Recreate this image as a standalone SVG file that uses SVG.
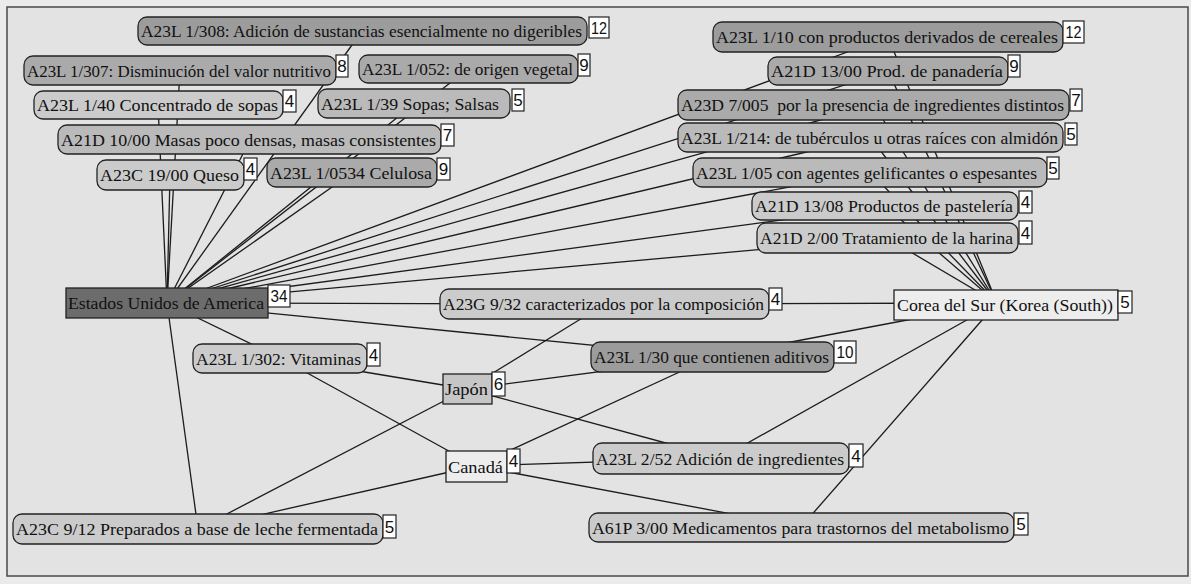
<svg xmlns="http://www.w3.org/2000/svg" width="1191" height="584" viewBox="0 0 1191 584">
<style>
.bg{fill:#ebebeb}
.frame{fill:#e3e3e3;stroke:#4a4a4a;stroke-width:1.5}
.edge{stroke:#1c1c1c;stroke-width:1.3;fill:none}
.box{stroke:#222;stroke-width:1.3}
.lbl{font-family:"Liberation Serif","Times New Roman",serif;font-size:17px;fill:#111}
.cr{fill:#fff;stroke:#222;stroke-width:1.2}
.ct{font-family:"Liberation Sans",Arial,sans-serif;font-size:17px;fill:#111;text-anchor:middle}
.g2{fill:#9c9c9c}.g3{fill:#aaaaaa}.g4{fill:#bababa}.g5{fill:#cbcbcb}.gd{fill:#6c6c6c}.gj{fill:#c6c6c6}.gw{fill:#ededed}
</style>
<rect class="bg" x="0" y="0" width="1191" height="584"/>
<rect class="frame" x="7" y="7" width="1181" height="569"/>
<g id="connectors">
<line class="edge" x1="167" y1="303" x2="362" y2="31"/>
<line class="edge" x1="167" y1="303" x2="180" y2="70"/>
<line class="edge" x1="167" y1="303" x2="468" y2="69"/>
<line class="edge" x1="167" y1="303" x2="158" y2="105"/>
<line class="edge" x1="167" y1="303" x2="414" y2="104"/>
<line class="edge" x1="167" y1="303" x2="250" y2="140"/>
<line class="edge" x1="167" y1="303" x2="170" y2="175"/>
<line class="edge" x1="167" y1="303" x2="352" y2="173"/>
<line class="edge" x1="167" y1="303" x2="888" y2="37"/>
<line class="edge" x1="167" y1="303" x2="888" y2="71"/>
<line class="edge" x1="167" y1="303" x2="874" y2="105"/>
<line class="edge" x1="167" y1="303" x2="870" y2="137"/>
<line class="edge" x1="167" y1="303" x2="870" y2="172"/>
<line class="edge" x1="167" y1="303" x2="885" y2="206"/>
<line class="edge" x1="167" y1="303" x2="887" y2="238"/>
<line class="edge" x1="167" y1="303" x2="605" y2="304"/>
<line class="edge" x1="167" y1="303" x2="712" y2="357"/>
<line class="edge" x1="167" y1="303" x2="280" y2="358"/>
<line class="edge" x1="167" y1="303" x2="198" y2="529"/>
<line class="edge" x1="997" y1="303" x2="888" y2="37"/>
<line class="edge" x1="997" y1="303" x2="888" y2="71"/>
<line class="edge" x1="997" y1="303" x2="874" y2="105"/>
<line class="edge" x1="997" y1="303" x2="870" y2="137"/>
<line class="edge" x1="997" y1="303" x2="870" y2="172"/>
<line class="edge" x1="997" y1="303" x2="885" y2="206"/>
<line class="edge" x1="997" y1="303" x2="887" y2="238"/>
<line class="edge" x1="997" y1="303" x2="605" y2="304"/>
<line class="edge" x1="997" y1="303" x2="712" y2="357"/>
<line class="edge" x1="997" y1="303" x2="721" y2="458"/>
<line class="edge" x1="997" y1="303" x2="801" y2="527"/>
<line class="edge" x1="467" y1="389" x2="280" y2="358"/>
<line class="edge" x1="467" y1="389" x2="605" y2="304"/>
<line class="edge" x1="467" y1="389" x2="712" y2="357"/>
<line class="edge" x1="467" y1="389" x2="721" y2="458"/>
<line class="edge" x1="467" y1="389" x2="198" y2="529"/>
<line class="edge" x1="476" y1="466" x2="280" y2="358"/>
<line class="edge" x1="476" y1="466" x2="712" y2="357"/>
<line class="edge" x1="476" y1="466" x2="721" y2="458"/>
<line class="edge" x1="476" y1="466" x2="801" y2="527"/>
<line class="edge" x1="476" y1="466" x2="198" y2="529"/>
</g>
<g id="n-a23l-1-308"><rect class="box g2" x="138" y="17" width="449" height="28" rx="9"/><text class="lbl" x="141" y="37" textLength="441" lengthAdjust="spacingAndGlyphs">A23L 1/308: Adición de sustancias esencialmente no digeribles</text><rect class="cr" x="589" y="17" width="20" height="21"/><text class="ct" x="599" y="33.5" textLength="16" lengthAdjust="spacingAndGlyphs">12</text></g>
<g id="n-a23l-1-307"><rect class="box g3" x="24" y="56" width="312" height="29" rx="9"/><text class="lbl" x="27" y="76.5" textLength="304" lengthAdjust="spacingAndGlyphs">A23L 1/307: Disminución del valor nutritivo</text><rect class="cr" x="336" y="55" width="12" height="22"/><text class="ct" x="342" y="72">8</text></g>
<g id="n-a23l-1-052"><rect class="box g3" x="359" y="55" width="219" height="28" rx="9"/><text class="lbl" x="362" y="75" textLength="211" lengthAdjust="spacingAndGlyphs">A23L 1/052: de origen vegetal</text><rect class="cr" x="578" y="54" width="12" height="22"/><text class="ct" x="584" y="71">9</text></g>
<g id="n-a23l-1-40"><rect class="box g5" x="34" y="91" width="249" height="28" rx="9"/><text class="lbl" x="37" y="111" textLength="241" lengthAdjust="spacingAndGlyphs">A23L 1/40 Concentrado de sopas</text><rect class="cr" x="283" y="90" width="13" height="22"/><text class="ct" x="289.5" y="107">4</text></g>
<g id="n-a23l-1-39"><rect class="box g4" x="318" y="89" width="192" height="29" rx="9"/><text class="lbl" x="321" y="109.5" textLength="178" lengthAdjust="spacingAndGlyphs">A23L 1/39 Sopas; Salsas</text><rect class="cr" x="512" y="89" width="12" height="22"/><text class="ct" x="518" y="106">5</text></g>
<g id="n-a21d-10-00"><rect class="box g4" x="58" y="125" width="383" height="29" rx="9"/><text class="lbl" x="61" y="145.5" textLength="375" lengthAdjust="spacingAndGlyphs">A21D 10/00 Masas poco densas, masas consistentes</text><rect class="cr" x="441" y="124" width="13" height="22"/><text class="ct" x="447.5" y="141">7</text></g>
<g id="n-a23c-19-00"><rect class="box g5" x="97" y="160" width="147" height="30" rx="9"/><text class="lbl" x="100" y="181" textLength="139" lengthAdjust="spacingAndGlyphs">A23C 19/00 Queso</text><rect class="cr" x="244" y="158" width="13" height="22"/><text class="ct" x="250.5" y="175">4</text></g>
<g id="n-a23l-1-0534"><rect class="box g3" x="267" y="158" width="170" height="29" rx="9"/><text class="lbl" x="270" y="178.5" textLength="162" lengthAdjust="spacingAndGlyphs">A23L 1/0534 Celulosa</text><rect class="cr" x="437" y="158" width="13" height="22"/><text class="ct" x="443.5" y="175">9</text></g>
<g id="n-a23l-1-10"><rect class="box g2" x="713" y="22" width="350" height="30" rx="9"/><text class="lbl" x="716" y="43" textLength="342" lengthAdjust="spacingAndGlyphs">A23L 1/10 con productos derivados de cereales</text><rect class="cr" x="1063" y="21" width="21" height="22"/><text class="ct" x="1073.5" y="38" textLength="16" lengthAdjust="spacingAndGlyphs">12</text></g>
<g id="n-a21d-13-00"><rect class="box g3" x="768" y="57" width="240" height="28" rx="9"/><text class="lbl" x="771" y="77" textLength="232" lengthAdjust="spacingAndGlyphs">A21D 13/00 Prod. de panadería</text><rect class="cr" x="1008" y="55" width="12" height="22"/><text class="ct" x="1014" y="72">9</text></g>
<g id="n-a23d-7-005"><rect class="box g3" x="678" y="90" width="391" height="30" rx="9"/><text class="lbl" x="681" y="111" textLength="383" lengthAdjust="spacingAndGlyphs" style="white-space:pre">A23D 7/005  por la presencia de ingredientes distintos</text><rect class="cr" x="1070" y="89" width="12" height="22"/><text class="ct" x="1076" y="106">7</text></g>
<g id="n-a23l-1-214"><rect class="box g4" x="678" y="123" width="385" height="29" rx="9"/><text class="lbl" x="681" y="143.5" textLength="377" lengthAdjust="spacingAndGlyphs">A23L 1/214: de tubérculos u otras raíces con almidón</text><rect class="cr" x="1065" y="123" width="12" height="22"/><text class="ct" x="1071" y="140">5</text></g>
<g id="n-a23l-1-05"><rect class="box g4" x="693" y="158" width="354" height="29" rx="9"/><text class="lbl" x="696" y="178.5" textLength="341" lengthAdjust="spacingAndGlyphs">A23L 1/05 con agentes gelificantes o espesantes</text><rect class="cr" x="1047" y="157" width="12" height="22"/><text class="ct" x="1053" y="174">5</text></g>
<g id="n-a21d-13-08"><rect class="box g5" x="752" y="192" width="266" height="28" rx="9"/><text class="lbl" x="755" y="212" textLength="258" lengthAdjust="spacingAndGlyphs">A21D 13/08 Productos de pastelería</text><rect class="cr" x="1019" y="191" width="13" height="22"/><text class="ct" x="1025.5" y="208">4</text></g>
<g id="n-a21d-2-00"><rect class="box g5" x="757" y="223" width="261" height="30" rx="9"/><text class="lbl" x="760" y="244" textLength="253" lengthAdjust="spacingAndGlyphs">A21D 2/00 Tratamiento de la harina</text><rect class="cr" x="1019" y="221" width="13" height="23"/><text class="ct" x="1025.5" y="238.5">4</text></g>
<g id="n-estados-unidos"><rect class="box gd" x="66" y="288" width="202" height="30"/><text class="lbl" x="68" y="309" textLength="196" lengthAdjust="spacingAndGlyphs">Estados Unidos de America</text><rect class="cr" x="268" y="285" width="22" height="22"/><text class="ct" x="279" y="302" textLength="17" lengthAdjust="spacingAndGlyphs">34</text></g>
<g id="n-a23g-9-32"><rect class="box g5" x="440" y="289" width="329" height="30" rx="9"/><text class="lbl" x="443" y="310" textLength="321" lengthAdjust="spacingAndGlyphs">A23G 9/32 caracterizados por la composición</text><rect class="cr" x="769" y="288" width="13" height="22"/><text class="ct" x="775.5" y="305">4</text></g>
<g id="n-corea"><rect class="box gw" x="894" y="290" width="224" height="30"/><text class="lbl" x="897" y="311" textLength="216" lengthAdjust="spacingAndGlyphs">Corea del Sur (Korea (South))</text><rect class="cr" x="1118" y="291" width="14" height="22"/><text class="ct" x="1125" y="308">5</text></g>
<g id="n-a23l-1-302"><rect class="box g5" x="193" y="344" width="174" height="29" rx="9"/><text class="lbl" x="196" y="364.5" textLength="165" lengthAdjust="spacingAndGlyphs">A23L 1/302: Vitaminas</text><rect class="cr" x="367" y="343" width="13" height="23"/><text class="ct" x="373.5" y="360.5">4</text></g>
<g id="n-a23l-1-30"><rect class="box g2" x="591" y="342" width="243" height="30" rx="9"/><text class="lbl" x="594" y="363" textLength="235" lengthAdjust="spacingAndGlyphs">A23L 1/30 que contienen aditivos</text><rect class="cr" x="834" y="341" width="22" height="22"/><text class="ct" x="845" y="358" textLength="17" lengthAdjust="spacingAndGlyphs">10</text></g>
<g id="n-japon"><rect class="box gj" x="443" y="374" width="49" height="30"/><text class="lbl" x="445" y="395" textLength="43" lengthAdjust="spacingAndGlyphs">Japón</text><rect class="cr" x="492" y="372" width="13" height="24"/><text class="ct" x="498.5" y="390">6</text></g>
<g id="n-canada"><rect class="box gw" x="446" y="451" width="61" height="31"/><text class="lbl" x="448" y="472.5" textLength="55" lengthAdjust="spacingAndGlyphs">Canadá</text><rect class="cr" x="507" y="449" width="13" height="24"/><text class="ct" x="513.5" y="467">4</text></g>
<g id="n-a23l-2-52"><rect class="box g5" x="593" y="443" width="256" height="31" rx="9"/><text class="lbl" x="596" y="464.5" textLength="248" lengthAdjust="spacingAndGlyphs">A23L 2/52 Adición de ingredientes</text><rect class="cr" x="849" y="444" width="14" height="23"/><text class="ct" x="856" y="461.5">4</text></g>
<g id="n-a61p-3-00"><rect class="box g5" x="589" y="513" width="425" height="29" rx="9"/><text class="lbl" x="592" y="533.5" textLength="417" lengthAdjust="spacingAndGlyphs">A61P 3/00 Medicamentos para trastornos del metabolismo</text><rect class="cr" x="1014" y="513" width="14" height="22"/><text class="ct" x="1021" y="530">5</text></g>
<g id="n-a23c-9-12"><rect class="box g5" x="13" y="514" width="370" height="30" rx="9"/><text class="lbl" x="16" y="535" textLength="362" lengthAdjust="spacingAndGlyphs">A23C 9/12 Preparados a base de leche fermentada</text><rect class="cr" x="383" y="515" width="13" height="23"/><text class="ct" x="389.5" y="532.5">5</text></g>
</svg>
